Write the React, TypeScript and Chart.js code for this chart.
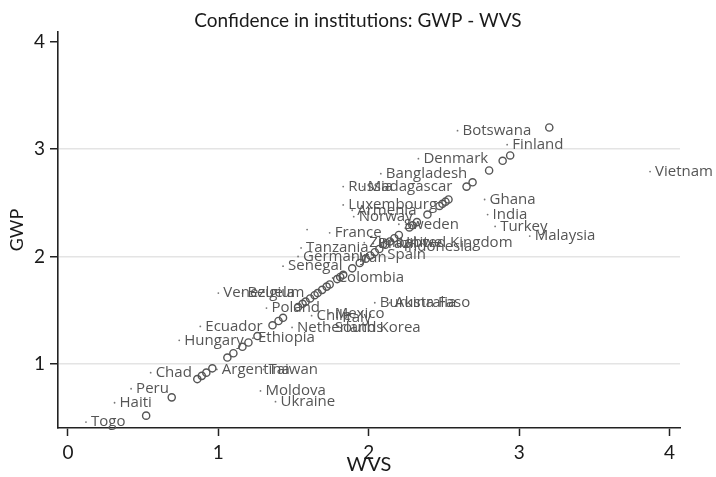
import { useEffect, useRef } from "react";
import { Chart, registerables } from "chart.js";

Chart.register(...registerables);

const countries = [
  "Botswana", "Finland", "Denmark", "Vietnam", "Bangladesh", "Russia", "Madagascar",
  "Luxembourg", "Armenia", "Norway", "Sweden", "France", "", "Ghana", "India", "Turkey",
  "Malaysia", "Zimbabwe", "Brazil", "United Kingdom", "Indonesia", "Tanzania", "Germany",
  "Iran", "Spain", "Senegal", "Colombia", "Venezuela", "Belgium", "Poland", "Burkina Faso",
  "Australia", "Chile", "Mexico", "Italy", "Netherlands", "South Korea", "Ecuador",
  "Hungary", "Ethiopia", "Chad", "Argentina", "Taiwan", "Peru", "Haiti", "Togo",
  "Moldova", "Ukraine",
];

const wvs = [
  2.59, 2.92, 2.33, 3.87, 2.08, 1.83, 1.96,
  1.83, 1.89, 1.9, 2.2, 1.74, 1.59, 2.77, 2.79, 2.84,
  3.07, 1.97, 2.03, 2.17, 2.2, 1.55, 1.53,
  1.9, 2.09, 1.43, 1.76, 1.0, 1.16, 1.32, 2.04,
  2.14, 1.62, 1.74, 1.79, 1.49, 1.74, 0.88,
  0.74, 1.23, 0.55, 0.99, 1.3, 0.42, 0.31, 0.12,
  1.28, 1.38,
];

const gwp = [
  3.17, 3.04, 2.91, 2.79, 2.77, 2.65, 2.65,
  2.48, 2.43, 2.37, 2.3, 2.22, 2.25, 2.53, 2.39, 2.28,
  2.19, 2.13, 2.12, 2.13, 2.09, 2.08, 2.0,
  1.99, 2.02, 1.91, 1.8, 1.66, 1.66, 1.52, 1.57,
  1.57, 1.45, 1.47, 1.43, 1.34, 1.34, 1.35,
  1.22, 1.24, 0.92, 0.95, 0.95, 0.77, 0.64, 0.46,
  0.75, 0.65,
];

// hollow circles on the 45-degree line (value on both axes)
const diagonal = [
  0.52, 0.69, 0.86, 0.89, 0.92, 0.96, 1.06, 1.1, 1.16, 1.2, 1.26, 1.36, 1.4, 1.43,
  1.53, 1.56, 1.58, 1.61, 1.64, 1.66, 1.69, 1.72, 1.74, 1.79, 1.81, 1.83, 1.89,
  1.94, 1.98, 2.01, 2.04, 2.07, 2.11, 2.14, 2.17, 2.2, 2.27, 2.29, 2.32, 2.39,
  2.47, 2.49, 2.51, 2.53, 2.65, 2.69, 2.8, 2.89, 2.94, 3.2,
];

const xTicks = [0, 1, 2, 3, 4];
const yTicks = [1, 2, 3, 4];

export default function App() {
  const ref = useRef<HTMLCanvasElement>(null);

  useEffect(() => {
    document.body.style.margin = "0";
    if (!ref.current) return;

    const labelPlugin = {
      id: "countryLabels",
      afterDatasetsDraw(chart: any) {
        const meta = chart.getDatasetMeta(1);
        const ctx = chart.ctx;
        ctx.save();
        ctx.font = "15px 'Open Sans'";
        ctx.fillStyle = "#555555";
        ctx.textBaseline = "middle";
        ctx.textAlign = "left";
        meta.data.forEach((el: any, i: number) => {
          if (countries[i]) ctx.fillText(countries[i], el.x + 5, el.y);
        });
        ctx.restore();
      },
    };

    const tickFont = { family: "Lato", size: 19 };
    const chart = new Chart(ref.current, {
      type: "scatter",
      data: {
        datasets: [
          {
            data: diagonal.map((v) => ({ x: v, y: v })),
            pointStyle: "circle",
            pointRadius: 3.6,
            pointBorderColor: "#555555",
            pointBorderWidth: 1.4,
            pointBackgroundColor: "rgba(0,0,0,0)",
          },
          {
            data: countries.map((_, i) => ({ x: wvs[i], y: gwp[i] })),
            pointRadius: 0.9,
            pointBorderWidth: 0,
            pointBackgroundColor: "#777777",
          },
        ],
      },
      options: {
        animation: false,
        responsive: false,
        events: [],
        layout: { padding: { left: 0, right: 0, top: 0, bottom: 0 } },
        plugins: {
          legend: { display: false },
          tooltip: { enabled: false },
          title: {
            display: true,
            text: "Confidence in institutions: GWP - WVS",
            color: "#1a1a1a",
            font: { family: "Lato", size: 19, weight: "normal", lineHeight: 1.2 },
            padding: { top: 9, bottom: 0.2 },
          },
        },
        scales: {
          x: {
            type: "linear",
            min: -0.066,
            max: 4.069,
            afterBuildTicks: (s: any) => {
              s.ticks = xTicks.map((v) => ({ value: v }));
            },
            afterFit: (s: any) => {
              s.height = 49;
            },
            grid: {
              drawOnChartArea: false,
              tickLength: 8,
              tickColor: "#222222",
              tickWidth: 1.5,
            },
            border: { display: true, color: "#222222", width: 1.6 },
            ticks: { color: "#1a1a1a", font: tickFont, padding: 5, maxRotation: 0 },
            title: {
              display: true,
              text: "WVS",
              color: "#1a1a1a",
              font: { family: "Lato", size: 20, lineHeight: 1.2 },
              padding: { top: 0, bottom: 0 },
            },
          },
          y: {
            type: "linear",
            min: 0.405,
            max: 4.088,
            afterBuildTicks: (s: any) => {
              s.ticks = yTicks.map((v) => ({ value: v }));
            },
            afterFit: (s: any) => {
              s.width = 58;
            },
            grid: {
              color: (c: any) => (c.tick && c.tick.value === 4 ? "rgba(0,0,0,0)" : "#e4e4e4"),
              lineWidth: 1.5,
              tickLength: 8,
              tickColor: "#222222",
              tickWidth: 1.5,
            },
            border: { display: true, color: "#222222", width: 1.6 },
            ticks: { color: "#1a1a1a", font: tickFont, padding: 5 },
            title: {
              display: true,
              text: "GWP",
              color: "#1a1a1a",
              font: { family: "Lato", size: 18, lineHeight: 1.2 },
              padding: { top: 6, bottom: 0 },
            },
          },
          yRight: {
            type: "linear",
            position: "right",
            display: true,
            grid: { display: false },
            border: { display: false },
            ticks: { display: false },
            afterFit: (s: any) => {
              s.width = 36;
            },
          },
        },
      },
      plugins: [labelPlugin],
    } as any);

    return () => chart.destroy();
  }, []);

  return (
    <div style={{ width: 716, height: 477 }}>
      <canvas ref={ref} width={716} height={477} style={{ display: "block" }} />
    </div>
  );
}
